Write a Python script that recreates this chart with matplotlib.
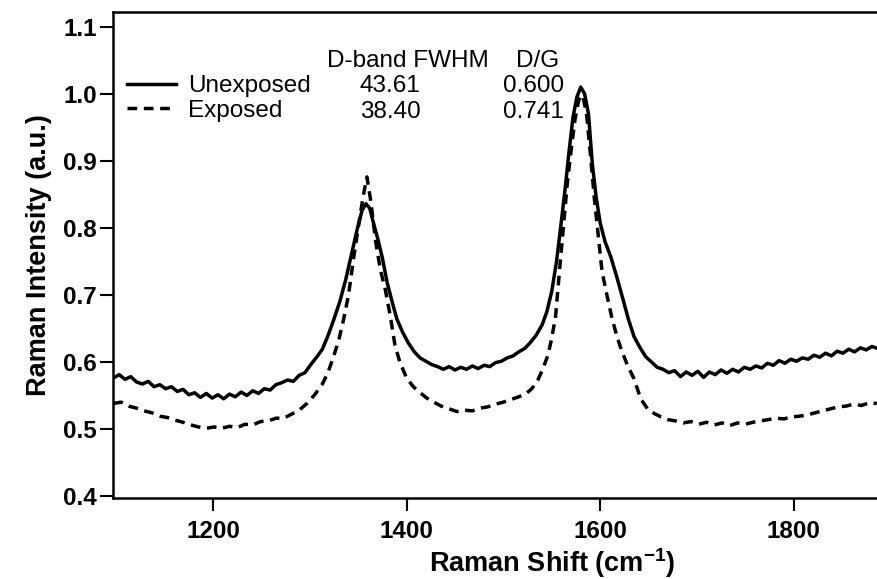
import matplotlib
matplotlib.use("Agg")
import matplotlib.pyplot as plt

# Raman spectra, unexposed vs exposed sample

unexp_shift = [1097, 1103, 1109, 1115, 1121, 1127, 1133, 1139, 1145, 1151, 1157, 1163, 1169, 1175,
               1181, 1187, 1193, 1199, 1205, 1211, 1217, 1223, 1229, 1235, 1241, 1247, 1253, 1259,
               1265, 1271, 1277, 1283, 1289, 1295, 1301, 1307, 1313, 1319, 1325, 1331, 1337, 1343,
               1349, 1354, 1358, 1362, 1366, 1370, 1375, 1380, 1385, 1390, 1396, 1402, 1408, 1414,
               1420, 1426, 1432, 1438, 1444, 1450, 1456, 1462, 1468, 1474, 1480, 1486, 1492, 1498,
               1504, 1510, 1516, 1522, 1528, 1534, 1540, 1545, 1550, 1555, 1560, 1564, 1568, 1572,
               1576, 1580, 1584, 1588, 1592, 1596, 1600, 1605, 1611, 1617, 1623, 1629, 1635, 1641,
               1647, 1653, 1659, 1665, 1671, 1677, 1683, 1689, 1695, 1701, 1707, 1713, 1719, 1725,
               1731, 1737, 1743, 1749, 1755, 1761, 1767, 1773, 1779, 1785, 1791, 1797, 1803, 1809,
               1815, 1821, 1827, 1833, 1839, 1845, 1851, 1857, 1863, 1869, 1875, 1881, 1887]
unexp_int = [0.576, 0.581, 0.574, 0.578, 0.570, 0.567, 0.571, 0.563, 0.566, 0.560, 0.563, 0.556, 0.559, 0.551,
             0.554, 0.547, 0.553, 0.546, 0.551, 0.545, 0.552, 0.548, 0.555, 0.550, 0.557, 0.553, 0.560, 0.558,
             0.566, 0.569, 0.573, 0.571, 0.580, 0.584, 0.596, 0.607, 0.619, 0.640, 0.664, 0.690, 0.722, 0.760,
             0.798, 0.826, 0.836, 0.829, 0.806, 0.785, 0.755, 0.718, 0.690, 0.664, 0.644, 0.628, 0.615, 0.606,
             0.601, 0.596, 0.593, 0.589, 0.593, 0.588, 0.592, 0.589, 0.594, 0.590, 0.595, 0.593, 0.599, 0.601,
             0.606, 0.609, 0.615, 0.620, 0.629, 0.640, 0.655, 0.675, 0.705, 0.750, 0.810, 0.860, 0.915, 0.965,
             0.995, 1.010, 1.000, 0.970, 0.895, 0.845, 0.808, 0.780, 0.757, 0.728, 0.697, 0.665, 0.638, 0.622,
             0.608, 0.600, 0.592, 0.589, 0.584, 0.587, 0.578, 0.585, 0.580, 0.586, 0.577, 0.585, 0.581, 0.588,
             0.583, 0.589, 0.585, 0.592, 0.589, 0.594, 0.591, 0.598, 0.595, 0.602, 0.598, 0.604, 0.601, 0.606,
             0.604, 0.610, 0.607, 0.613, 0.609, 0.616, 0.613, 0.619, 0.615, 0.621, 0.618, 0.623, 0.620]

exp_shift = [1097, 1105, 1113, 1121, 1129, 1137, 1145, 1153, 1161, 1169, 1177, 1185, 1193, 1201,
             1209, 1217, 1225, 1233, 1241, 1249, 1257, 1265, 1273, 1281, 1289, 1297, 1305, 1313,
             1319, 1325, 1330, 1335, 1340, 1345, 1350, 1355, 1359, 1363, 1368, 1373, 1378, 1383,
             1388, 1393, 1400, 1407, 1414, 1421, 1428, 1436, 1444, 1452, 1460, 1468, 1476, 1484,
             1492, 1500, 1508, 1516, 1524, 1530, 1536, 1541, 1546, 1550, 1554, 1558, 1562, 1566,
             1570, 1574, 1578, 1582, 1586, 1590, 1594, 1598, 1602, 1607, 1612, 1617, 1622, 1628,
             1635, 1642, 1649, 1656, 1663, 1670, 1678, 1686, 1694, 1702, 1710, 1718, 1726, 1734,
             1742, 1750, 1758, 1766, 1774, 1782, 1790, 1798, 1806, 1814, 1822, 1830, 1838, 1846,
             1854, 1862, 1870, 1878, 1886]
exp_int = [0.538, 0.540, 0.534, 0.531, 0.527, 0.524, 0.519, 0.517, 0.513, 0.510, 0.506, 0.503, 0.501, 0.503,
           0.501, 0.504, 0.502, 0.507, 0.506, 0.511, 0.512, 0.516, 0.516, 0.522, 0.528, 0.538, 0.551, 0.567,
           0.585, 0.610, 0.633, 0.664, 0.700, 0.752, 0.800, 0.846, 0.876, 0.840, 0.780, 0.737, 0.708, 0.670,
           0.625, 0.600, 0.576, 0.563, 0.554, 0.546, 0.540, 0.534, 0.530, 0.526, 0.528, 0.527, 0.531, 0.533,
           0.537, 0.540, 0.544, 0.548, 0.553, 0.561, 0.574, 0.590, 0.610, 0.635, 0.668, 0.735, 0.800, 0.865,
           0.915, 0.961, 0.991, 0.998, 0.970, 0.910, 0.845, 0.790, 0.735, 0.700, 0.667, 0.640, 0.618, 0.596,
           0.575, 0.545, 0.530, 0.523, 0.518, 0.514, 0.512, 0.509, 0.511, 0.507, 0.510, 0.506, 0.509, 0.505,
           0.509, 0.507, 0.510, 0.512, 0.514, 0.516, 0.515, 0.518, 0.519, 0.521, 0.524, 0.527, 0.530, 0.533,
           0.534, 0.537, 0.535, 0.539, 0.538]

series_names = ["Unexposed", "Exposed"]
table_header = ["D-band FWHM", "D/G"]
fwhm_vals = ["43.61", "38.40"]
dg_vals = ["0.600", "0.741"]

x_ticks = [1200, 1400, 1600, 1800]
y_ticks = [0.4, 0.5, 0.6, 0.7, 0.8, 0.9, 1.0, 1.1]

plt.rcParams['font.family'] = ['Liberation Sans', 'DejaVu Sans']
plt.rcParams['mathtext.fontset'] = 'custom'
plt.rcParams['mathtext.rm'] = 'Liberation Sans'
plt.rcParams['mathtext.bf'] = 'Liberation Sans:bold'

fig = plt.figure(figsize=(8.77, 5.79), dpi=100)
# the original figure is cropped on the right, so the axes run past the edge
ax = fig.add_axes([113 / 877, 1 - 498 / 579, (991 - 113) / 877, (498 - 12) / 579])

l1, = ax.plot(unexp_shift, unexp_int, color='black', lw=2.5, solid_joinstyle='round')
l2, = ax.plot(exp_shift, exp_int, color='black', lw=2.5, dashes=(2.8, 1.9))

ax.set_xlim(1096.6, 2004)
ax.set_ylim(0.397, 1.122)
ax.set_xticks(x_ticks)
ax.set_yticks(y_ticks)
ax.set_yticklabels(["%.1f" % v for v in y_ticks])

for side in ['left', 'top', 'bottom']:
    ax.spines[side].set_linewidth(1.8)
ax.spines['right'].set_visible(False)

ax.tick_params(axis='both', direction='out', length=9.5, width=1.5, labelsize=17.5)
ax.tick_params(axis='y', pad=2)
ax.tick_params(axis='x', pad=6)
for lab in ax.get_xticklabels() + ax.get_yticklabels():
    lab.set_fontweight('bold')

ax.set_xlabel(r"Raman Shift (cm$^{\mathbf{-1}}$)", fontsize=19.5, fontweight='bold', labelpad=3)
ax.set_ylabel("Raman Intensity (a.u.)", fontsize=19.5, fontweight='bold', labelpad=8)

leg = ax.legend([l1, l2], series_names, loc='upper left', frameon=False, fontsize=17.5,
                bbox_to_anchor=(127 / 877, 1 - 75 / 579), bbox_transform=fig.transFigure,
                borderpad=0, borderaxespad=0, handlelength=2.0, handletextpad=0.5,
                labelspacing=0.12)

# small table of peak parameters
ax.text(1401, 1.040, table_header[0], fontsize=17.5, ha='center', va='baseline')
ax.text(1535, 1.040, table_header[1], fontsize=17.5, ha='center', va='baseline')
row_y = [1.003, 0.964]
for i in range(len(series_names)):
    ax.text(1383, row_y[i], fwhm_vals[i], fontsize=17.5, ha='center', va='baseline')
    ax.text(1531, row_y[i], dg_vals[i], fontsize=17.5, ha='center', va='baseline')

fig.savefig("out.png", dpi=100)
